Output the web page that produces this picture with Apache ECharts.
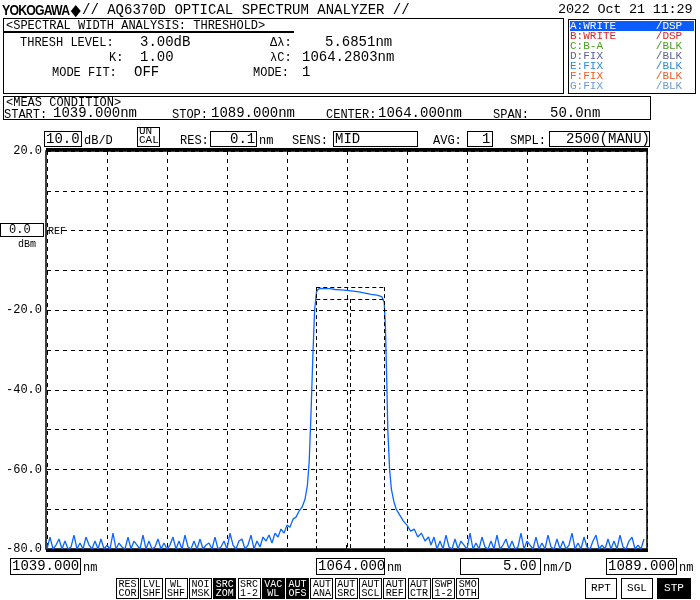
<!DOCTYPE html>
<html><head><meta charset="utf-8">
<script src="https://cdn.jsdelivr.net/npm/echarts@6/dist/echarts.min.js"></script>
<style>
body{margin:0;width:700px;height:600px;background:#fff;font-family:"Liberation Mono",monospace;color:#000;position:relative;overflow:hidden}
.t{position:absolute;white-space:pre;font-size:14px;line-height:14px}
.s{font-size:12px}
.b{position:absolute;border:1px solid #000;box-sizing:border-box}
.btn{position:absolute;top:578px;width:22px;height:21px;border:1px solid #000;box-sizing:border-box;font-size:10px;line-height:9px;text-align:center;padding-top:1px}
.inv{background:#000;color:#fff}
#chart{position:absolute;left:0;top:0;width:700px;height:600px}
.tr{position:absolute;left:570px;width:124px;font-size:11px;line-height:10px;white-space:pre}
</style></head><body>
<div id="chart"></div>
<script>
// noise floor, left side, 1039.0 .. 1057.0 nm every 0.25 nm
var leftStart = 1039.0;
var leftNoise = [-80,-77,-80,-79,-77.5,-80,-78,-80,-79.5,-76.5,-80,-78.5,-80,-77,-79,-80,-78,-80,-77.5,-80,
  -79,-80,-76,-80,-78.5,-79.5,-80,-77,-80,-78,-79,-80,-76.5,-80,-78,-80,-79.5,-77.5,-80,-78.5,
  -80,-79,-77,-80,-78,-80,-76.5,-79.5,-80,-78,-80,-77.5,-80,-79,-78.5,-80,-77,-80,-79.5,-78,
  -80,-76,-79,-80,-78,-77.5,-80,-79,-76.5,-80,-78,-79.5,-77];
// signal region incl. pedestal skirts, [nm, dBm]
var signal = [[1057.25,-78],[1057.5,-76.5],[1057.75,-78.5],[1058.0,-76],[1058.25,-77],[1058.5,-75],[1058.75,-76],
  [1059.0,-74],[1059.25,-74.5],[1059.5,-72.5],[1059.75,-72],[1060.0,-70.5],[1060.25,-69.5],[1060.5,-67.5],
  [1060.7,-64],[1060.85,-58],[1061.0,-46],[1061.15,-32],[1061.3,-20],[1061.45,-15.5],[1061.6,-14.7],
  [1061.8,-14.5],[1062.2,-14.6],[1062.6,-14.6],[1063.0,-14.8],[1063.5,-14.9],[1064.0,-15.0],[1064.5,-15.2],
  [1065.0,-15.4],[1065.5,-15.7],[1066.0,-16.0],[1066.5,-16.2],[1066.9,-16.6],[1067.1,-18],[1067.2,-24],
  [1067.3,-36],[1067.4,-50],[1067.55,-60],[1067.7,-65],[1067.9,-68],[1068.1,-70],[1068.4,-71.5],[1068.7,-73],
  [1069.0,-74],[1069.3,-75.5],[1069.6,-75],[1069.9,-77],[1070.2,-76],[1070.5,-78],[1070.8,-77],[1071.0,-79]];
// noise floor, right side, 1071.25 .. 1089.0 nm every 0.25 nm
var rightStart = 1071.25;
var rightNoise = [-77,-80,-78,-80,-76.5,-79.5,-80,-77.5,-80,-78,-79,-80,-76,-80,-78.5,-80,-77,-79.5,-80,-78,
  -80,-76.5,-80,-79,-77.5,-80,-78,-80,-79.5,-76,-80,-78,-79,-80,-77,-80,-78.5,-80,-76.5,-79.5,
  -80,-77.5,-80,-78,-80,-79,-76,-80,-78.5,-80,-77,-79.5,-80,-78,-76.5,-80,-79,-80,-77.5,-80,
  -78,-80,-76.5,-79.5,-80,-78,-77,-80,-79,-80,-77.5];
var yTicks = [20, -20, -40, -60, -80];
var threshBox = {left: 1061.44, right: 1067.12, top: -14.2, bottom: -17.2, center: 1064.28};

var data = [];
leftNoise.forEach(function (v, i) { data.push([leftStart + i * 0.25, v]); });
signal.forEach(function (p) { data.push(p); });
rightNoise.forEach(function (v, i) { data.push([rightStart + i * 0.25, v]); });

var dash = {color: '#000', type: [4, 4], width: 1};
var chart = echarts.init(document.getElementById('chart'));
chart.setOption({
    animation: false,
    grid: {left: 47, right: 53, top: 151, bottom: 51},
    xAxis: {
        type: 'value', min: 1039, max: 1089, interval: 5,
        axisLine: {show: false}, axisTick: {show: false}, axisLabel: {show: false},
        splitLine: {lineStyle: dash}
    },
    yAxis: {
        type: 'value', min: -80, max: 20, interval: 10,
        axisLine: {show: false}, axisTick: {show: false},
        axisLabel: {
            color: '#000', fontFamily: 'Liberation Mono', fontSize: 12, margin: 5,
            formatter: function (v) { return yTicks.indexOf(v) >= 0 ? v.toFixed(1) : ''; }
        },
        splitLine: {lineStyle: dash}
    },
    series: [{
        type: 'line', data: data, symbol: 'none',
        lineStyle: {color: '#0a66ff', width: 1.3},
        markLine: {
            silent: true, symbol: 'none', label: {show: false},
            lineStyle: {color: '#000', type: [4, 3], width: 1},
            data: [
                [{coord: [threshBox.left, threshBox.top]}, {coord: [threshBox.right, threshBox.top]}],
                [{coord: [threshBox.left, threshBox.bottom]}, {coord: [threshBox.right, threshBox.bottom]}],
                [{coord: [threshBox.left, threshBox.top]}, {coord: [threshBox.left, -80]}],
                [{coord: [threshBox.right, threshBox.top]}, {coord: [threshBox.right, -80]}],
                [{coord: [threshBox.center, threshBox.bottom]}, {coord: [threshBox.center, -80]}]
            ]
        }
    }],
    graphic: [
        {type: 'rect', shape: {x: 46, y: 151, width: 601, height: 398}, style: {fill: 'none', stroke: '#000', lineWidth: 1.5}},
        {type: 'rect', shape: {x: 46, y: 148, width: 602, height: 3}, style: {fill: '#000'}},
        {type: 'rect', shape: {x: 46, y: 549, width: 602, height: 3}, style: {fill: '#000'}},
        {type: 'rect', shape: {x: 346, y: 545, width: 1, height: 4}, style: {fill: '#000'}}
    ]
});
</script>
<div class="t" style="left:2px;top:3px;font-family:'Liberation Sans';font-weight:bold;font-size:15px;letter-spacing:-1px;transform:scaleX(0.82);transform-origin:0 0">YOKOGAWA &#9670;</div>
<div class="t" style="left:82px;top:3px">// AQ6370D OPTICAL SPECTRUM ANALYZER //</div>
<div class="t" style="left:558px;top:3px;font-size:13.5px;letter-spacing:-0.2px">2022 Oct 21 11:29</div>

<div class="b" style="left:3px;top:18px;width:561px;height:76px"></div>
<div class="t s" style="left:6px;top:19px">&lt;SPECTRAL WIDTH ANALYSIS: THRESHOLD&gt;</div>
<div class="b" style="left:4px;top:31px;width:290px;height:1px"></div>
<div class="t s" style="left:20px;top:36px">THRESH LEVEL:</div>
<div class="t" style="left:140px;top:35px">3.00dB</div>
<div class="t s" style="left:109px;top:51px">K:</div>
<div class="t" style="left:140px;top:50px">1.00</div>
<div class="t s" style="left:52px;top:66px">MODE FIT:</div>
<div class="t" style="left:134px;top:65px">OFF</div>
<div class="t s" style="left:270px;top:36px">Δλ:</div>
<div class="t" style="left:325px;top:35px">5.6851nm</div>
<div class="t s" style="left:270px;top:51px">λC:</div>
<div class="t" style="left:302px;top:50px">1064.2803nm</div>
<div class="t s" style="left:253px;top:66px">MODE:</div>
<div class="t" style="left:302px;top:65px">1</div>

<div class="b" style="left:568px;top:19px;width:128px;height:75px"></div>
<div style="position:absolute;left:570px;top:21px;width:124px;height:10px;background:#0a5cff"></div>
<div class="tr" style="top:21px;color:#fff">A:WRITE      /DSP</div>
<div class="tr" style="top:31px;color:#e02020">B:WRITE      /DSP</div>
<div class="tr" style="top:41px;color:#4a9a20">C:B-A        /BLK</div>
<div class="tr" style="top:51px;color:#606090">D:FIX        /BLK</div>
<div class="tr" style="top:61px;color:#2a8ad0">E:FIX        /BLK</div>
<div class="tr" style="top:71px;color:#f05a20">F:FIX        /BLK</div>
<div class="tr" style="top:81px;color:#6a98d0">G:FIX        /BLK</div>

<div class="b" style="left:3px;top:96px;width:648px;height:24px"></div>
<div class="t s" style="left:6px;top:96px">&lt;MEAS CONDITION&gt;</div>
<div class="t s" style="left:4px;top:108px">START:</div>
<div class="t" style="left:53px;top:106px">1039.000nm</div>
<div class="t s" style="left:172px;top:108px">STOP:</div>
<div class="t" style="left:211px;top:106px">1089.000nm</div>
<div class="t s" style="left:326px;top:108px">CENTER:</div>
<div class="t" style="left:378px;top:106px">1064.000nm</div>
<div class="t s" style="left:493px;top:108px">SPAN:</div>
<div class="t" style="left:550px;top:106px">50.0nm</div>

<div class="b" style="left:44px;top:131px;width:38px;height:16px"></div>
<div class="t" style="left:46px;top:132px">10.0</div>
<div class="t s" style="left:84px;top:134px">dB/D</div>
<div class="b" style="left:137px;top:127px;width:23px;height:20px"></div>
<div class="t" style="left:139px;top:127px;font-size:11px;line-height:9px">UN<br>CAL</div>
<div class="t s" style="left:180px;top:134px">RES:</div>
<div class="b" style="left:210px;top:131px;width:47px;height:16px"></div>
<div class="t" style="left:230px;top:132px">0.1</div>
<div class="t s" style="left:259px;top:134px">nm</div>
<div class="t s" style="left:292px;top:134px">SENS:</div>
<div class="b" style="left:333px;top:131px;width:85px;height:16px"></div>
<div class="t" style="left:335px;top:132px">MID</div>
<div class="t s" style="left:433px;top:134px">AVG:</div>
<div class="b" style="left:467px;top:131px;width:26px;height:16px"></div>
<div class="t" style="left:482px;top:132px">1</div>
<div class="t s" style="left:510px;top:134px">SMPL:</div>
<div class="b" style="left:549px;top:131px;width:101px;height:16px"></div>
<div class="t" style="left:566px;top:132px">2500(MANU)</div>

<div class="b" style="left:0px;top:223px;width:44px;height:14px"></div>
<div class="t" style="left:9px;top:223px;font-size:12px">0.0</div>
<div class="t" style="left:48px;top:225px;font-size:10px">REF</div>
<div class="t" style="left:18px;top:238px;font-size:10px">dBm</div>

<div class="b" style="left:10px;top:558px;width:71px;height:17px"></div>
<div class="t" style="left:12px;top:559px">1039.000</div>
<div class="t s" style="left:83px;top:561px">nm</div>
<div class="b" style="left:316px;top:558px;width:69px;height:17px"></div>
<div class="t" style="left:318px;top:559px">1064.000</div>
<div class="t s" style="left:387px;top:561px">nm</div>
<div class="b" style="left:460px;top:558px;width:81px;height:17px"></div>
<div class="t" style="left:503px;top:559px">5.00</div>
<div class="t s" style="left:543px;top:561px">nm/D</div>
<div class="b" style="left:606px;top:558px;width:71px;height:17px"></div>
<div class="t" style="left:608px;top:559px">1089.000</div>
<div class="t s" style="left:679px;top:561px">nm</div>
<div id="btns"></div>
<script>
var btnLabels = ['RES<br>COR','LVL<br>SHF','WL<br>SHF','NOI<br>MSK','SRC<br>ZOM','SRC<br>1-2','VAC<br>WL','AUT<br>OFS','AUT<br>ANA','AUT<br>SRC','AUT<br>SCL','AUT<br>REF','AUT<br>CTR','SWP<br>1-2','SMO<br>OTH'];
var btnInv = [4, 6, 7];
var html = '';
btnLabels.forEach(function (l, i) {
    html += '<div class="btn' + (btnInv.indexOf(i) >= 0 ? ' inv' : '') + '" style="left:' + (116 + i * 24.3) + 'px;width:23px">' + l + '</div>';
});
html += '<div class="btn" style="left:585px;width:32px;font-size:11px;padding-top:5px">RPT</div>';
html += '<div class="btn" style="left:621px;width:32px;font-size:11px;padding-top:5px">SGL</div>';
html += '<div class="btn inv" style="left:657px;width:34px;font-size:11px;padding-top:5px">STP</div>';
document.getElementById('btns').innerHTML = html;
</script>
</body></html>
